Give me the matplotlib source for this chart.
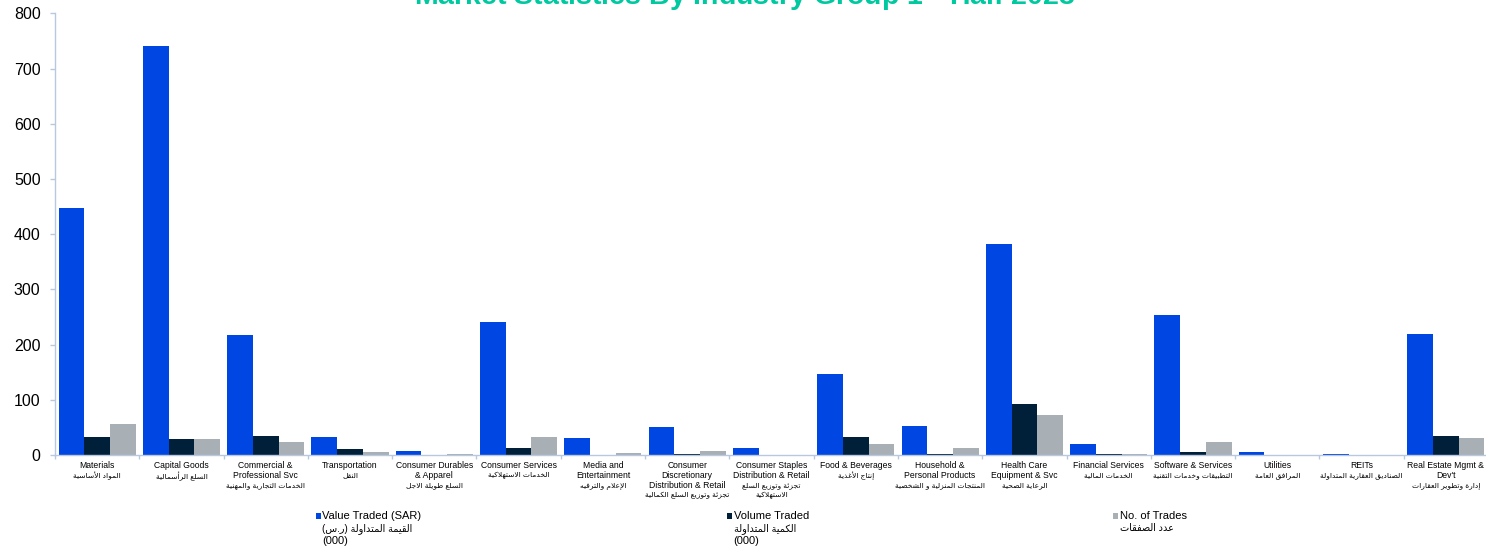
import matplotlib
matplotlib.use("Agg")
import matplotlib.pyplot as plt
from matplotlib.patches import Rectangle
import numpy as np

plt.rcParams['font.family'] = ['Liberation Sans', 'DejaVu Sans']
plt.rcParams['mathtext.fontset'] = 'custom'
plt.rcParams['mathtext.bf'] = 'Liberation Sans:bold'
plt.rcParams['mathtext.rm'] = 'Liberation Sans'

# ---------------- data ----------------
categories_en = [
    "Materials", "Capital Goods", "Commercial &\nProfessional Svc", "Transportation",
    "Consumer Durables\n& Apparel", "Consumer Services", "Media and\nEntertainment",
    "Consumer\nDiscretionary\nDistribution & Retail", "Consumer Staples\nDistribution & Retail",
    "Food & Beverages", "Household &\nPersonal Products", "Health Care\nEquipment & Svc",
    "Financial Services", "Software & Services", "Utilities", "REITs",
    "Real Estate Mgmt &\nDev't",
]
categories_ar = [
    "المواد الأساسية", "السلع الرأسمالية", "الخدمات التجارية والمهنية", "النقل",
    "السلع طويلة الاجل", "الخدمات الاستهلاكية", "الإعلام والترفيه",
    "تجزئة وتوزيع السلع الكمالية", "تجزئة وتوزيع السلع\nالاستهلاكية",
    "إنتاج الأغذية", "المنتجات المنزلية و الشخصية", "الرعاية الصحية",
    "الخدمات المالية", "التطبيقات وخدمات التقنية", "المرافق العامة",
    "الصناديق العقارية المتداولة", "إدارة وتطوير العقارات",
]
value_traded = [448, 740, 217, 33, 7, 240, 30, 50, 13.5, 146, 53, 382, 20, 254, 5.5, 2, 220]
volume_traded = [33, 29, 34, 10, 0.7, 12.6, 0.3, 2, 0.3, 32, 2, 92, 1, 5, 0.3, 0.2, 35]
no_of_trades = [56, 29, 23, 5.5, 1, 32, 4.5, 7, 0.6, 20, 13, 72, 1.2, 23.5, 0.8, 0.4, 31]

series_en = ["Value Traded (SAR)", "Volume Traded", "No. of Trades"]
series_ar = ["القيمة المتداولة (ر.س)", "الكمية المتداولة", "عدد الصفقات"]
series_unit = ["(000)", "(000)", ""]
series_colors = ["#0046E2", "#00203A", "#A8B0B5"]

yticks = [0, 100, 200, 300, 400, 500, 600, 700, 800]
title = r"Market Statistics By Industry Group 1$^{\mathbf{st}}$ Half 2023"

# ---------------- Arabic shaping (presentation forms + RTL) ----------------
ARABIC = {
    '\u0621': (0xFE80, 1), '\u0622': (0xFE81, 2), '\u0623': (0xFE83, 2), '\u0624': (0xFE85, 2),
    '\u0625': (0xFE87, 2), '\u0626': (0xFE89, 4), '\u0627': (0xFE8D, 2), '\u0628': (0xFE8F, 4),
    '\u0629': (0xFE93, 2), '\u062A': (0xFE95, 4), '\u062B': (0xFE99, 4), '\u062C': (0xFE9D, 4),
    '\u062D': (0xFEA1, 4), '\u062E': (0xFEA5, 4), '\u062F': (0xFEA9, 2), '\u0630': (0xFEAB, 2),
    '\u0631': (0xFEAD, 2), '\u0632': (0xFEAF, 2), '\u0633': (0xFEB1, 4), '\u0634': (0xFEB5, 4),
    '\u0635': (0xFEB9, 4), '\u0636': (0xFEBD, 4), '\u0637': (0xFEC1, 4), '\u0638': (0xFEC5, 4),
    '\u0639': (0xFEC9, 4), '\u063A': (0xFECD, 4), '\u0641': (0xFED1, 4), '\u0642': (0xFED5, 4),
    '\u0643': (0xFED9, 4), '\u0644': (0xFEDD, 4), '\u0645': (0xFEE1, 4), '\u0646': (0xFEE5, 4),
    '\u0647': (0xFEE9, 4), '\u0648': (0xFEED, 2), '\u0649': (0xFEEF, 2), '\u064A': (0xFEF1, 4),
}
LAM_ALEF = {'\u0622': 0xFEF5, '\u0623': 0xFEF7, '\u0625': 0xFEF9, '\u0627': 0xFEFB}


def shape_ar(s):
    res = []
    n = len(s)
    i = 0
    while i < n:
        c = s[i]
        if c not in ARABIC:
            res.append(c)
            i += 1
            continue
        prev = s[i - 1] if i > 0 else ''
        cprev = prev in ARABIC and ARABIC[prev][1] == 4
        if c == '\u0644' and i + 1 < n and s[i + 1] in LAM_ALEF:
            res.append(chr(LAM_ALEF[s[i + 1]] + (1 if cprev else 0)))
            i += 2
            continue
        nxt = s[i + 1] if i + 1 < n else ''
        start, nf = ARABIC[c]
        cnext = nf == 4 and nxt in ARABIC
        if nf == 1:
            f = start
        elif nf == 2:
            f = start + (1 if cprev else 0)
        else:
            if cprev and cnext:
                f = start + 3
            elif cprev:
                f = start + 1
            elif cnext:
                f = start + 2
            else:
                f = start
        res.append(chr(f))
        i += 1
    out = ''.join(res)[::-1]
    return out.translate(str.maketrans('()', ')('))


# ---------------- figure ----------------
W, H = 1486, 546
fig = plt.figure(figsize=(W / 100, H / 100), dpi=100)
ax = fig.add_axes([55 / W, (H - 455) / H, (1488 - 55) / W, (455 - 13.3) / H])

n = len(categories_en)
x = np.arange(n)
bw = 0.305
for k, (vals, col) in enumerate(zip([value_traded, volume_traded, no_of_trades], series_colors)):
    ax.bar(x + (k - 1) * bw, vals, width=bw, color=col, edgecolor='none')

ax.set_xlim(-0.5, n - 0.5)
ax.set_ylim(0, 800)
ax.set_yticks(yticks)
ax.set_yticklabels([str(t) for t in yticks], fontsize=11.5, color='#000000')
ax.set_xticks(np.arange(n + 1) - 0.5)
ax.set_xticklabels([])

axis_col = '#B8C8DF'
for s in ['top', 'right']:
    ax.spines[s].set_visible(False)
for s in ['left', 'bottom']:
    ax.spines[s].set_color(axis_col)
    ax.spines[s].set_linewidth(1.0)
ax.tick_params(axis='y', length=3.6, width=1.0, color=axis_col, pad=6.8)
ax.tick_params(axis='x', length=3.0, width=1.0, color=axis_col)

# category labels
for i in range(n):
    lines = [(l, 6.2, False) for l in categories_en[i].split('\n')]
    lines += [(shape_ar(l), 5.4, True) for l in categories_ar[i].split('\n')]
    for j, (txt, fs, ar) in enumerate(lines):
        ax.annotate(txt, xy=(i, 0), xycoords=('data', 'axes fraction'),
                    xytext=(0, -(11 + 10 * j) * 0.72), textcoords='offset points',
                    ha='center', va='center', fontsize=fs, color='#000000',
                    annotation_clip=False)

# legend
leg_x = [316, 727, 1113]
for k in range(3):
    x0 = leg_x[k]
    fig.add_artist(Rectangle((x0 / W, 1 - 518.5 / H), 5.2 / W, 5.2 / H,
                             transform=fig.transFigure, facecolor=series_colors[k],
                             edgecolor='none'))
    lines = [(series_en[k], 8), (shape_ar(series_ar[k]), 7)]
    if series_unit[k]:
        lines.append((series_unit[k], 8))
    for j, (txt, fs) in enumerate(lines):
        fig.text((x0 + 6.5) / W, 1 - (515.7 + 12.5 * j) / H, txt, fontsize=fs,
                 ha='left', va='center', color='#000000')

# title (clipped at top as in the reference)
fig.text(745 / W, 1 - 5 / H, title, fontsize=20.5, fontweight='bold', color='#00C9A0',
         ha='center', va='baseline')

fig.savefig('out.png', dpi=100)
